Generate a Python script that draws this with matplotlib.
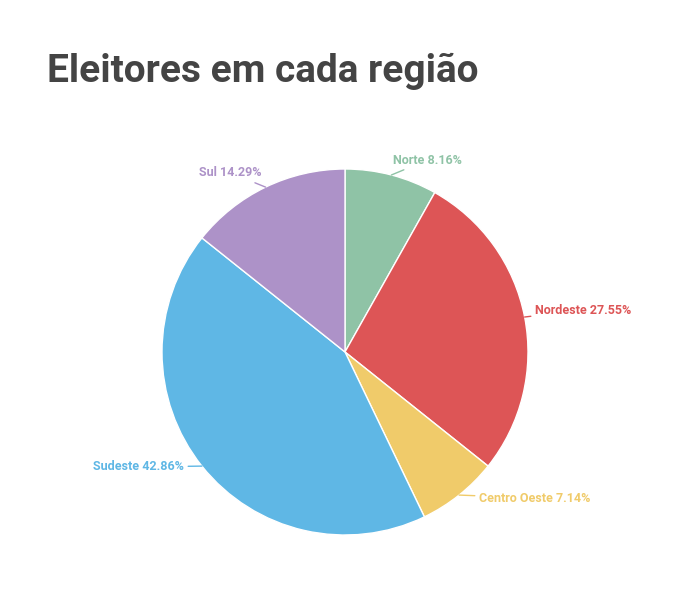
import numpy as np
import matplotlib
matplotlib.use("Agg")
import matplotlib.pyplot as plt

categories = ["Norte", "Nordeste", "Centro Oeste", "Sudeste", "Sul"]
values = [8, 27, 7, 42, 14]
colors = ["#8fc3a6", "#dd5556", "#f0cb6a", "#5fb7e5", "#ad92c8"]
# label anchor offsets from pie centre (pixels, y up) – layout only
label_offsets = [(48, 192), (190, 42), (134, -146), (-161, -115), (-83, 179)]

W, H = 691, 608
fig = plt.figure(figsize=(W / 100, H / 100), dpi=100)
ax = fig.add_axes([0, 0, 1, 1])

cx, cy, R = 345, H - 352, 183
wedges, _ = ax.pie(values, colors=colors, startangle=90, counterclock=False,
                   center=(cx, cy), radius=R, frame=True,
                   wedgeprops=dict(edgecolor="white", linewidth=1))
ax.set_xlim(0, W)
ax.set_ylim(0, H)
ax.set_aspect("equal")
ax.axis("off")

total = sum(values)
for w, name, v, c, (dx, dy) in zip(wedges, categories, values, colors, label_offsets):
    ang = np.deg2rad((w.theta1 + w.theta2) / 2)
    ex, ey = cx + R * np.cos(ang), cy + R * np.sin(ang)
    tx, ty = cx + dx, cy + dy
    ha = "left" if dx >= 0 else "right"
    ax.annotate(f"{name} {100 * v / total:.2f}%", xy=(ex, ey), xytext=(tx, ty),
                ha=ha, va="center", color=c, fontsize=9, family="Roboto",
                fontweight="bold",
                arrowprops=dict(arrowstyle="-", color=c, lw=1,
                                shrinkA=1, shrinkB=0))

fig.text(47 / W, 1 - 82 / H, "Eleitores em cada região", fontsize=28,
         fontweight="bold", family="Roboto", color="#444444", va="baseline")

fig.savefig("out.png", dpi=100, facecolor="white")
